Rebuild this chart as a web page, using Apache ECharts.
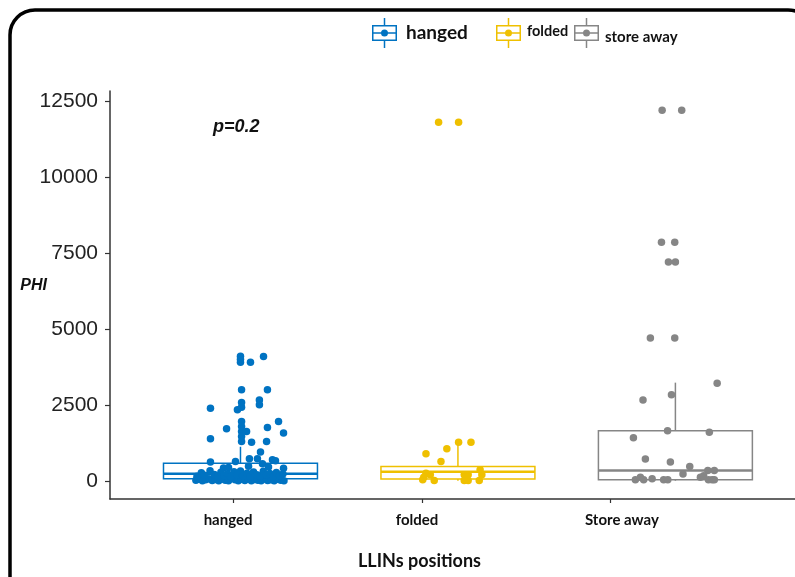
<!DOCTYPE html>
<html><head><meta charset="utf-8">
<script src="https://cdn.jsdelivr.net/npm/echarts@6/dist/echarts.min.js"></script>
<style>html,body{margin:0;padding:0;background:#fff}#c{width:795px;height:577px}</style>
</head><body><div id="c"></div>
<script>
// ---------- data ----------
const categories = ['hanged', 'folded', 'Store away'];
const groupNames = ['hanged', 'folded', 'store away'];
const colors = ['#0073C2', '#EFC000', '#868686'];
const yTicks = [0, 2500, 5000, 7500, 10000, 12500];
// category positions of the groups, and (shifted) positions of the x ticks / labels
const groupPos = [1, 2, 3];
const xTickPos = [0.966, 1.835, 2.699];
const xLabelPos = [0.943, 1.812, 2.754];
// box statistics: [lower whisker, Q1, median, Q3, upper whisker]
const hangedBox = [0, 65, 230, 580, 1120];
const foldedBox = [0, 55, 300, 470, 1270];
const storeBox = [0, 30, 340, 1645, 3230];
// jittered points (jitter offset from group position, PHI value)
const hangedJitter = [0, 0, 0, 0.046, 0.106, 0.005, 0.124, -0.138, -0.014, 0.005, 0.005, 0.087, 0.087,
  0.005, 0.005, 0.005, 0.005, 0.005, -0.064, -0.138, 0.028, 0.124, 0.175, 0.198, 0.051, 0.12,
  0.092, 0.041, 0.078, 0.147, 0.161, -0.138, -0.023, -0.078, -0.055, 0.101, 0.129, 0.198, 0.037,
  -0.205, -0.19, -0.175, -0.16, -0.145, -0.13, -0.115, -0.1, -0.085, -0.07, -0.055, -0.04, -0.025, -0.01,
  0.005, 0.02, 0.035, 0.05, 0.065, 0.08, 0.095, 0.11, 0.125, 0.14, 0.155, 0.17, 0.185, 0.2,
  -0.2, -0.18, -0.165, -0.14, -0.12, -0.105, -0.09, -0.075, -0.06, -0.045, -0.03, -0.015, 0, 0.01,
  0.03, 0.045, 0.06, 0.075, 0.09, 0.105, 0.12, 0.135, 0.15, 0.165, 0.18, 0.195];
const hangedPHI = [4100, 4000, 3900, 3900, 4090, 3000, 3000, 2390, 2340, 2420, 2580, 2660, 2500,
  1950, 1790, 1620, 1460, 1290, 1710, 1380, 1620, 1750, 1950, 1570, 1270, 1290,
  945, 725, 725, 690, 655, 615, 635, 420, 440, 560, 450, 410, 480,
  20, 50, 0, 30, 70, 10, 40, 0, 60, 20, 0, 80, 30, 0,
  50, 10, 70, 0, 40, 20, 0, 60, 10, 30, 0, 50, 20, 0,
  150, 260, 180, 330, 210, 140, 280, 170, 230, 130, 300, 190, 320, 160,
  250, 140, 290, 200, 150, 310, 180, 240, 130, 270, 170, 220];
const foldedJitter = [-0.147, -0.078, -0.051, 0.003, 0.06, -0.089, 0.003, -0.157, -0.147, -0.127,
  -0.162, -0.109, 0.029, 0.047, 0.029, 0.047, 0.102, 0.11, 0.098];
const foldedPHI = [890, 635, 1050, 1270, 1270, 11800, 11800, 120, 250, 200,
  30, 10, 200, 200, 10, 10, 360, 200, 10];
const storeJitter = [-0.061, 0.029, -0.064, -0.003, -0.032, 0, -0.115, -0.003, 0.192, -0.149, -0.018,
  -0.036, 0.156, -0.193, -0.138, -0.023, 0.066, 0.035, 0.149, 0.179, -0.184, -0.161, -0.146, -0.107,
  -0.054, -0.035, 0.115, 0.13, 0.152, 0.169, 0.179];
const storePHI = [12200, 12200, 7850, 7850, 7200, 7200, 4700, 4700, 3210, 2660, 2830,
  1645, 1600, 1420, 715, 615, 470, 220, 340, 340, 30, 120, 30, 66,
  30, 30, 120, 165, 30, 30, 30];

// ---------- build ----------
const boxes = [hangedBox, foldedBox, storeBox];
const boxData = boxes.map((b, i) => [groupPos[i]].concat(b));
function pts(pos, jit, vals) { return vals.map((v, i) => [pos + jit[i], v]); }
const pointSets = [pts(groupPos[0], hangedJitter, hangedPHI), pts(groupPos[1], foldedJitter, foldedPHI), pts(groupPos[2], storeJitter, storePHI)];

const iconPath = 'path://M0 7H25V23H0Z M1.5 8.5V21.5H23.5V8.5Z M1.5 14.25H23.5V15.75H1.5Z M11.75 0H13.25V7H11.75Z M11.75 23H13.25V30H11.75Z M16 15A3.5 3.5 0 1 1 9 15A3.5 3.5 0 1 1 16 15Z';

const chart = echarts.init(document.getElementById('c'), null, {renderer: 'canvas'});
const legendBase = {orient: 'horizontal', itemWidth: 25, itemHeight: 30, icon: iconPath, top: 18, itemGap: 0, padding: 0,
  itemStyle: {borderWidth: 0}, selectedMode: true, formatter: '{s|{name}}'};
function legText(size, pad) {
  return {rich: {s: {fontFamily: 'Lato', fontWeight: 'bold', fontSize: size, color: '#111', padding: pad}}};
}
const ARIAL = '"Liberation Sans", Arial, sans-serif';
chart.setOption({
  animation: false,
  backgroundColor: '#fff',
  grid: {left: 110, right: 0, top: 91, bottom: 78, outerBoundsMode: 'none', containLabel: false},
  legend: [
    Object.assign({}, legendBase, {data: [groupNames[0]], left: 372, textStyle: legText(19, [0, 0, 1, 4])}),
    Object.assign({}, legendBase, {data: [groupNames[1]], left: 496, textStyle: legText(14.5, [0, 0, 4, 1])}),
    Object.assign({}, legendBase, {data: [groupNames[2]], left: 574, textStyle: legText(15, [8, 0, 0, 1])})
  ],
  xAxis: {
    type: 'value', min: 0.4, max: 3.55,
    splitLine: {show: false},
    axisLine: {show: true, onZero: false, lineStyle: {color: '#333', width: 1.5}},
    axisTick: {show: true, length: 4, customValues: xTickPos, lineStyle: {color: '#333', width: 1.2}},
    axisLabel: {customValues: xLabelPos, margin: 14, fontFamily: 'Lato', fontWeight: 'bold', fontSize: 15, color: '#111',
      formatter: function (v) {
        let best = 0;
        xLabelPos.forEach((p, i) => { if (Math.abs(p - v) < Math.abs(xLabelPos[best] - v)) best = i; });
        return categories[best];
      }},
    name: 'LLINs positions', nameLocation: 'middle', nameGap: 53, nameMoveOverlap: false,
    nameTextStyle: {fontFamily: 'Lato', fontWeight: 'bold', fontSize: 18, color: '#111', padding: [0, 66, 0, 0]}
  },
  yAxis: {
    type: 'value', min: -600, max: 12830,
    splitLine: {show: false},
    axisLine: {show: true, onZero: false, lineStyle: {color: '#333', width: 1.5}},
    axisTick: {show: true, length: 5, customValues: yTicks, lineStyle: {color: '#333', width: 1.2}},
    axisLabel: {customValues: yTicks, margin: 12, fontFamily: ARIAL, fontSize: 21, color: '#222',
      formatter: function (v) { return String(v); }},
    name: 'PHI', nameLocation: 'middle', nameRotate: 0, nameGap: 63, nameMoveOverlap: false,
    nameTextStyle: {fontFamily: ARIAL, fontStyle: 'italic', fontWeight: 'bold', fontSize: 16, color: '#111',
      verticalAlign: 'bottom', lineHeight: 19}
  },
  graphic: [
    {type: 'text', left: 213, top: 118, z: 10,
      style: {text: 'p=0.2', font: 'italic bold 18px "Liberation Sans"', fill: '#111'}},
    {type: 'rect', z: 20, silent: true, shape: {x: 10, y: 10, width: 803, height: 620, r: 25},
      style: {fill: 'none', stroke: '#000', lineWidth: 3.5}}
  ],
  series: [
    {
      type: 'custom', name: 'boxes', z: 1, silent: true,
      encode: {x: 0, y: [1, 2, 3, 4, 5]},
      data: boxData,
      renderItem: function (params, api) {
        const x = api.value(0);
        const c = colors[params.dataIndex];
        const w = api.size([0.708, 0])[0];
        const pMin = api.coord([x, api.value(1)]);
        const pQ1 = api.coord([x, api.value(2)]);
        const pMed = api.coord([x, api.value(3)]);
        const pQ3 = api.coord([x, api.value(4)]);
        const pMax = api.coord([x, api.value(5)]);
        const l = pQ1[0] - w / 2;
        return {type: 'group', children: [
          {type: 'line', shape: {x1: pQ3[0], y1: pQ3[1], x2: pMax[0], y2: pMax[1]}, style: {stroke: c, lineWidth: 1.5}},
          {type: 'line', shape: {x1: pQ1[0], y1: pQ1[1], x2: pMin[0], y2: pMin[1]}, style: {stroke: c, lineWidth: 1.5}},
          {type: 'rect', shape: {x: l, y: pQ3[1], width: w, height: pQ1[1] - pQ3[1]}, style: {fill: '#fff', stroke: c, lineWidth: 1.5}},
          {type: 'line', shape: {x1: l, y1: pMed[1], x2: l + w, y2: pMed[1]}, style: {stroke: c, lineWidth: 2.5}}
        ]};
      }
    }
  ].concat(groupNames.map((n, i) => ({
    type: 'scatter', name: n, z: 3, symbol: 'circle', symbolSize: 7.5,
    itemStyle: {color: colors[i], opacity: 1, borderWidth: 0},
    data: pointSets[i]
  })))
});
</script>
</body></html>
